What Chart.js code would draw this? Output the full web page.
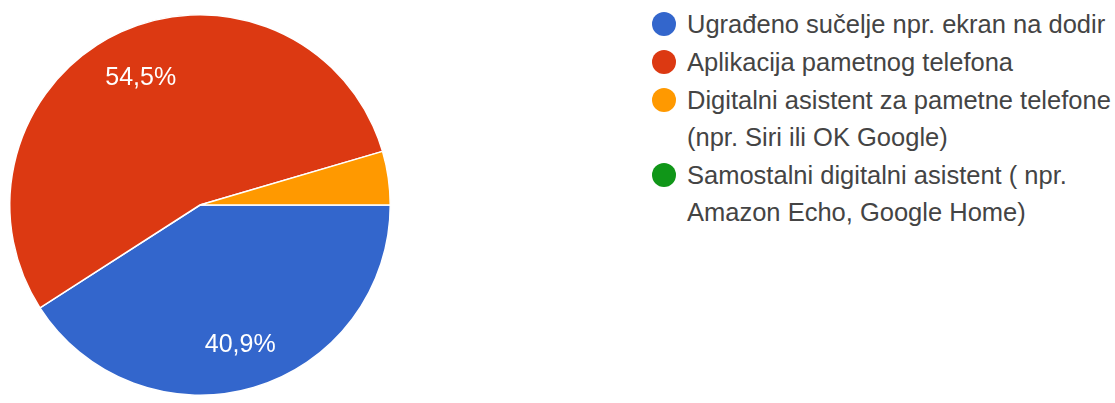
<!DOCTYPE html>
<html lang="hr">
<head>
    <meta charset="UTF-8">
    <title>Pie chart</title>
    <style>
        html, body { margin: 0; padding: 0; background: #fff; }
        body { width: 1115px; height: 403px; position: relative; overflow: hidden; font-family: "Liberation Sans", Arial, sans-serif; }
        #pieBox { position: absolute; left: 0; top: 0; width: 400px; height: 403px; }
        #legend { position: absolute; left: 652px; top: 6px; width: 463px; }
        .item { position: relative; padding-left: 35px; color: #444; font-size: 25.5px; line-height: 37px; margin-bottom: 1px; white-space: nowrap; }
        .dot { position: absolute; left: 0; top: 6px; width: 24px; height: 24px; border-radius: 50%; }
    </style>
</head>
<body>

<div id="pieBox"><canvas id="myChart"></canvas></div>
<div id="legend"></div>

<script src="https://cdn.jsdelivr.net/npm/chart.js"></script>
<script>
    // answers (22 responses)
    var labels = [
        'Ugrađeno sučelje npr. ekran na dodir',
        'Aplikacija pametnog telefona',
        'Digitalni asistent za pametne telefone (npr. Siri ili OK Google)',
        'Samostalni digitalni asistent ( npr. Amazon Echo, Google Home)'
    ];
    var legendLines = [
        ['Ugrađeno sučelje npr. ekran na dodir'],
        ['Aplikacija pametnog telefona'],
        ['Digitalni asistent za pametne telefone', '(npr. Siri ili OK Google)'],
        ['Samostalni digitalni asistent ( npr.', 'Amazon Echo, Google Home)']
    ];
    var counts = [9, 12, 1, 0];
    var colors = ['#3366cc', '#dc3912', '#ff9900', '#109618'];

    // html legend
    var legend = document.getElementById('legend');
    for (var i = 0; i < legendLines.length; i++) {
        var item = document.createElement('div');
        item.className = 'item';
        var dot = document.createElement('span');
        dot.className = 'dot';
        dot.style.background = colors[i];
        item.appendChild(dot);
        item.appendChild(document.createTextNode(legendLines[i][0]));
        for (var j = 1; j < legendLines[i].length; j++) {
            item.appendChild(document.createElement('br'));
            item.appendChild(document.createTextNode(legendLines[i][j]));
        }
        legend.appendChild(item);
    }

    // percent labels inside the slices
    var sliceLabels = {
        id: 'sliceLabels',
        afterDatasetsDraw: function (chart) {
            var ctx = chart.ctx;
            var meta = chart.getDatasetMeta(0);
            var data = chart.data.datasets[0].data;
            var total = data.reduce(function (a, b) { return a + b; }, 0);
            ctx.save();
            ctx.fillStyle = '#ffffff';
            ctx.font = '25px "Liberation Sans", Arial, sans-serif';
            ctx.textAlign = 'center';
            ctx.textBaseline = 'middle';
            meta.data.forEach(function (arc, i) {
                var pct = data[i] / total * 100;
                if (pct < 10) return; // small slices get no label
                var p = arc.getProps(['x', 'y', 'startAngle', 'endAngle', 'outerRadius'], true);
                var mid = (p.startAngle + p.endAngle) / 2;
                var r = p.outerRadius * 0.75;
                ctx.fillText(pct.toFixed(1).replace('.', ',') + '%', p.x + Math.cos(mid) * r, p.y + Math.sin(mid) * r + 3);
            });
            ctx.restore();
        }
    };

    new Chart(document.getElementById('myChart'), {
        type: 'pie',
        data: {
            labels: labels,
            datasets: [{
                data: counts,
                backgroundColor: colors,
                borderColor: '#ffffff',
                borderWidth: 1.5
            }]
        },
        options: {
            responsive: true,
            maintainAspectRatio: false,
            animation: false,
            rotation: 90,
            layout: { padding: { left: 9, right: 9, top: 14, bottom: 7 } },
            plugins: {
                legend: { display: false },
                tooltip: { enabled: false }
            }
        },
        plugins: [sliceLabels]
    });
</script>
</body>
</html>
